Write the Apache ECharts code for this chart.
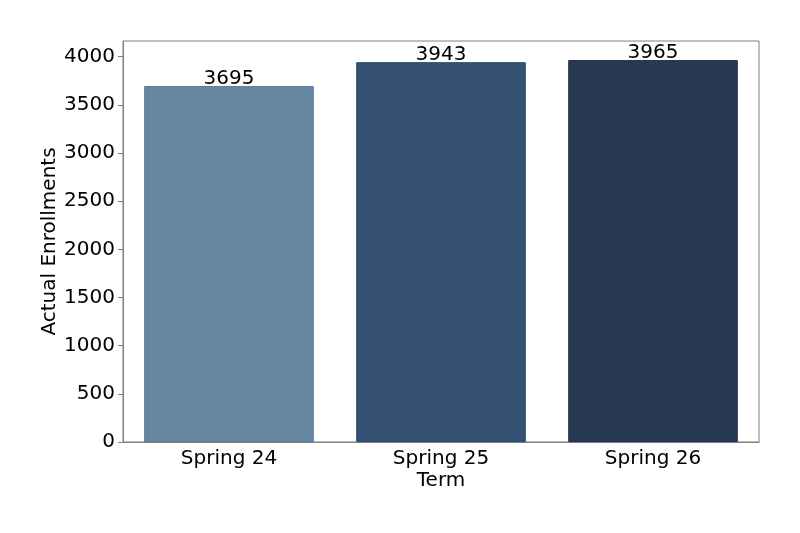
<!DOCTYPE html>
<html>
<head>
<meta charset="utf-8">
<script src="https://cdn.jsdelivr.net/npm/echarts@6/dist/echarts.min.js"></script>
<style>
  html, body { margin: 0; padding: 0; background: #fff; }
  #chart { width: 800px; height: 533px; }
</style>
</head>
<body>
<div id="chart"></div>
<script>
const terms = ['Spring 24', 'Spring 25', 'Spring 26'];
const enrollments = [3695, 3943, 3965];
const barColors = ['#67869f', '#345073', '#283a52'];
const edgeColors = ['#5b7b9b', '#2b4670', '#22334d'];

const font = 'DejaVu Sans, sans-serif';

let myChart = echarts.init(document.getElementById('chart'));
myChart.setOption({
  animation: false,
  grid: {
    left: 123, right: 41, top: 41, bottom: 91,
    show: true, borderColor: '#808080', borderWidth: 1
  },
  xAxis: {
    type: 'category',
    data: terms,
    name: 'Term',
    nameLocation: 'middle',
    nameGap: 29,
    nameMoveOverlap: false,
    nameTextStyle: { fontFamily: font, fontSize: 20, color: '#000' },
    axisLine: { lineStyle: { color: '#808080' } },
    axisTick: { alignWithLabel: true, length: 5, lineStyle: { color: '#808080' } },
    axisLabel: { fontFamily: font, fontSize: 20, color: '#000', margin: 7 }
  },
  yAxis: {
    type: 'value',
    min: 0,
    max: 4163,
    interval: 500,
    name: 'Actual Enrollments',
    nameLocation: 'middle',
    nameGap: 63,
    nameMoveOverlap: false,
    nameTextStyle: { fontFamily: font, fontSize: 20, color: '#000' },
    splitLine: { show: false },
    axisLine: { show: true, lineStyle: { color: '#808080' } },
    axisTick: { show: true, length: 5, lineStyle: { color: '#808080' } },
    axisLabel: {
      fontFamily: font, fontSize: 20, color: '#000', margin: 8,
      showMaxLabel: false,
      formatter: v => String(v)
    }
  },
  series: [{
    type: 'bar',
    barCategoryGap: '20%',
    data: enrollments.map((v, i) => ({
      value: v,
      itemStyle: { color: barColors[i], borderColor: edgeColors[i], borderWidth: 1 }
    })),
    label: {
      show: true,
      position: 'top',
      distance: -3,
      fontFamily: font,
      fontSize: 20,
      color: '#000'
    }
  }]
});
</script>
</body>
</html>
